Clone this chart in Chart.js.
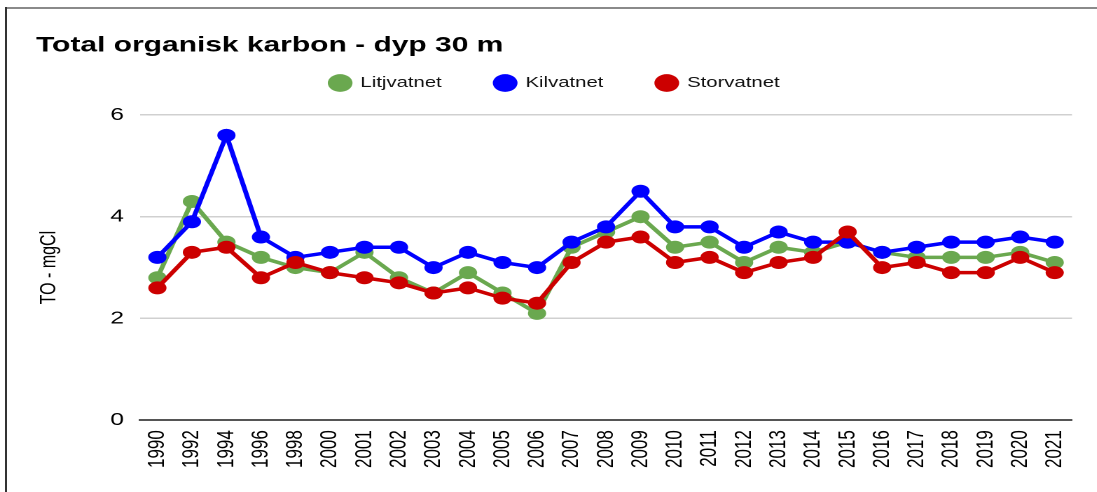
<!DOCTYPE html>
<html>
<head>
<meta charset="utf-8">
<script src="https://cdn.jsdelivr.net/npm/chart.js@4"></script>
<style>
  body { margin: 0; background: #fff; overflow: hidden; }
  #wrap { position: absolute; left: 0; top: 0; width: 783.6px; height: 492px; transform: scaleX(1.4); transform-origin: 0 0; }
  #topline { position: absolute; left: 6px; top: 7px; width: 1091px; height: 2px; background: #8a8a8a; }
  #leftline { position: absolute; left: 5px; top: 7px; width: 2px; height: 485px; background: #333; }
</style>
</head>
<body>
<div id="topline"></div>
<div id="leftline"></div>
<div id="wrap"><canvas id="myChart"></canvas></div>
<script>
var years = ['1990','1992','1994','1996','1998','2000','2001','2002','2003','2004','2005','2006','2007','2008','2009','2010','2011','2012','2013','2014','2015','2016','2017','2018','2019','2020','2021'];

var litjvatnet = [2.8, 4.3, 3.5, 3.2, 3.0, 2.9, 3.3, 2.8, 2.5, 2.9, 2.5, 2.1, 3.4, 3.7, 4.0, 3.4, 3.5, 3.1, 3.4, 3.3, 3.5, 3.3, 3.2, 3.2, 3.2, 3.3, 3.1];
var kilvatnet  = [3.2, 3.9, 5.6, 3.6, 3.2, 3.3, 3.4, 3.4, 3.0, 3.3, 3.1, 3.0, 3.5, 3.8, 4.5, 3.8, 3.8, 3.4, 3.7, 3.5, 3.5, 3.3, 3.4, 3.5, 3.5, 3.6, 3.5];
var storvatnet = [2.6, 3.3, 3.4, 2.8, 3.1, 2.9, 2.8, 2.7, 2.5, 2.6, 2.4, 2.3, 3.1, 3.5, 3.6, 3.1, 3.2, 2.9, 3.1, 3.2, 3.7, 3.0, 3.1, 2.9, 2.9, 3.2, 2.9];

var yTicks = [0, 2, 4, 6];

var font = 'Liberation Sans, Arial, sans-serif';

function series(label, data, color, order) {
    return {
        label: label,
        data: data,
        borderColor: color,
        backgroundColor: color,
        borderWidth: 3.5,
        pointRadius: 6.5,
        pointHoverRadius: 6.5,
        pointBorderWidth: 0,
        pointBackgroundColor: color,
        tension: 0,
        order: order
    };
}

// legend sits lower than chart.js puts it, stretch its box
var legendGap = {
    id: 'legendGap',
    beforeInit: function(chart) {
        var fit = chart.legend.fit;
        chart.legend.fit = function() {
            fit.call(this);
            this.height = 77.25;
        };
    }
};

var ctx = document.getElementById('myChart').getContext('2d');
var myChart = new Chart(ctx, {
    type: 'line',
    data: {
        labels: years,
        datasets: [
            series('Litjvatnet', litjvatnet, '#6aa84f', 3),
            series('Kilvatnet', kilvatnet, '#0000ff', 2),
            series('Storvatnet', storvatnet, '#cc0000', 1)
        ]
    },
    options: {
        responsive: true,
        maintainAspectRatio: false,
        animation: false,
        devicePixelRatio: 2,
        layout: { padding: { left: 25.7, right: 17.2, top: 0, bottom: 14 } },
        plugins: {
            title: {
                display: true,
                text: 'Total organisk karbon - dyp 30 m',
                align: 'start',
                color: '#000',
                font: { family: font, size: 21.4, weight: 'bold' },
                padding: { top: 33, bottom: -20.95 }
            },
            legend: {
                display: true,
                position: 'top',
                align: 'center',
                labels: {
                    usePointStyle: true,
                    pointStyle: 'circle',
                    boxHeight: 12.5,
                    boxWidth: 14.5,
                    padding: 38,
                    color: '#111',
                    font: { family: font, size: 14.5 },
                    sort: function(a, b) { return a.datasetIndex - b.datasetIndex; }
                }
            },
            tooltip: { enabled: false }
        },
        scales: {
            x: {
                offset: true,
                grid: { display: false, drawTicks: false },
                border: { display: true, color: '#555', width: 2 },
                ticks: {
                    autoSkip: false,
                    minRotation: 90,
                    maxRotation: 90,
                    padding: 10,
                    color: '#000',
                    font: { family: font, size: 17 }
                }
            },
            y: {
                min: 0,
                max: 6,
                afterBuildTicks: function(axis) {
                    axis.ticks = yTicks.map(function(v) { return { value: v }; });
                },
                grid: {
                    drawTicks: false,
                    lineWidth: 1.5,
                    color: function(c) { return c.tick && c.tick.value === 0 ? 'rgba(0,0,0,0)' : '#d0d0d0'; }
                },
                border: { display: false },
                ticks: {
                    padding: 11.6,
                    color: '#000',
                    font: { family: font, size: 17.5 }
                },
                title: {
                    display: true,
                    text: 'TO - mgCl',
                    color: '#000',
                    font: { family: font, size: 16 },
                    padding: { top: 0, bottom: 22.2 }
                }
            }
        }
    },
    plugins: [legendGap]
});
</script>
</body>
</html>
